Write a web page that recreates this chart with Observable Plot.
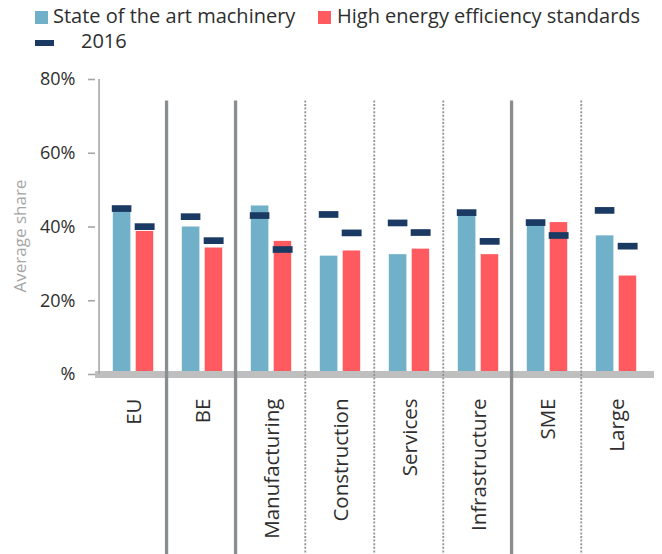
<!DOCTYPE html>
<html>
<head>
<meta charset="utf-8">
<script src="https://cdn.jsdelivr.net/npm/d3@7"></script>
<script src="https://cdn.jsdelivr.net/npm/@observablehq/plot@0.6"></script>
<style>
  html, body { margin: 0; padding: 0; background: #fff; }
  body { width: 662px; height: 554px; position: relative; overflow: hidden; font-family: "Open Sans", sans-serif; color: #333; }
  #legend { position: relative; width: 662px; height: 58px; }
  .sw { position: absolute; }
  .lt { position: absolute; font-size: 20px; line-height: 20px; white-space: nowrap; color: #2e2e2e; }
  #chart svg { display: block; }
</style>
</head>
<body>
<div id="legend"></div>
<div id="chart"></div>
<script>
// ---- data ----
const categories = ["EU", "BE", "Manufacturing", "Construction", "Services", "Infrastructure", "SME", "Large"];
const machinery      = [44.5, 40.0, 45.7, 32.1, 32.5, 43.5, 40.5, 37.6];
const efficiency     = [38.8, 34.3, 36.1, 33.5, 34.0, 32.5, 41.2, 26.7];
const machinery2016  = [45.0, 42.8, 43.1, 43.4, 41.1, 43.9, 41.2, 44.5];
const efficiency2016 = [40.1, 36.3, 33.9, 38.4, 38.5, 36.1, 37.7, 34.8];
const seriesNames = ["State of the art machinery", "High energy efficiency standards"];
const markerName = "2016";
const yTicks = [0, 20, 40, 60, 80];
const yLabel = "Average share";
const solidSeparators = ["BE", "Manufacturing", "SME"];
const dottedSeparators = ["Construction", "Services", "Infrastructure", "Large"];
const separatorTop = 74.2, separatorBottom = -49;

// ---- styles ----
const BLUE = "#70b0c8", RED = "#ff5a5f", NAVY = "#1b3a63";

// ---- legend ----
const legend = document.getElementById("legend");
legend.innerHTML = `
  <div class="sw" style="left:35px;top:11px;width:13px;height:13px;background:${BLUE}"></div>
  <div class="lt" style="left:53px;top:6px">${seriesNames[0]}</div>
  <div class="sw" style="left:318px;top:11px;width:13px;height:13px;background:${RED}"></div>
  <div class="lt" style="left:337px;top:6px">${seriesNames[1]}</div>
  <div class="sw" style="left:35px;top:40px;width:19px;height:6px;background:${NAVY}"></div>
  <div class="lt" style="left:81px;top:30.5px">${markerName}</div>
`;

// ---- table ----
const rows = categories.map((c, i) => ({
  cat: c, m: machinery[i], e: efficiency[i], m16: machinery2016[i], e16: efficiency2016[i]
}));

const W = 662, H = 496, mL = 95, mR = 8, mT = 21, mB = 180;
const bw = (W - mL - mR) / categories.length;

const chart = Plot.plot({
  width: W, height: H,
  marginLeft: mL, marginRight: mR, marginTop: mT, marginBottom: mB,
  style: { fontFamily: "Open Sans", background: "#fff", overflow: "visible" },
  x: { domain: categories, padding: 0, axis: null },
  y: { domain: [0, 80], axis: null },
  marks: [
    Plot.barY(rows, { x: "cat", y: "m", fill: BLUE, insetLeft: 13.8, insetRight: 37.6 }),
    Plot.barY(rows, { x: "cat", y: "e", fill: RED, insetLeft: 36.7, insetRight: 14.8 }),
    Plot.ruleY([0], { stroke: "#bfbfbf", strokeWidth: 7 }),
    Plot.ruleX([categories[0]], { x: d => d, y1: 0, y2: 80, dx: -bw / 2, stroke: "#a6a6a6", strokeWidth: 1.6 }),
    Plot.ruleX(solidSeparators, { x: d => d, y1: separatorTop, y2: separatorBottom, dx: -bw / 2 - 1.5, stroke: "#8b8e91", strokeWidth: 3.3 }),
    Plot.ruleX(dottedSeparators, { x: d => d, y1: separatorTop, y2: separatorBottom, dx: -bw / 2 - 0.8, stroke: "#939393", strokeWidth: 1.8, strokeDasharray: "2,1.6" }),
    Plot.tickY(rows, { x: "cat", y: "m16", stroke: NAVY, strokeWidth: 6.7, insetLeft: 12.8, insetRight: 36.6 }),
    Plot.tickY(rows, { x: "cat", y: "e16", stroke: NAVY, strokeWidth: 6.7, insetLeft: 35.7, insetRight: 13.4 }),
    Plot.axisY({
      ticks: yTicks, tickFormat: d => d === 0 ? "%" : d + "%",
      tickSize: 7, tickPadding: 13, fontSize: 18, fill: "#2e2e2e",
      stroke: "#a6a6a6", strokeWidth: 1.6, label: null
    }),
    Plot.text([yLabel], {
      text: d => d, frameAnchor: "left", rotate: -90, dx: -75, dy: 9,
      fontSize: 17, fill: "#a6a6a6", textAnchor: "middle"
    }),
    Plot.axisX({
      tickRotate: -90, tickSize: 0, tickPadding: 24, fontSize: 20.5, fill: "#2e2e2e", label: null
    })
  ]
});
document.getElementById("chart").appendChild(chart);
</script>
</body>
</html>
